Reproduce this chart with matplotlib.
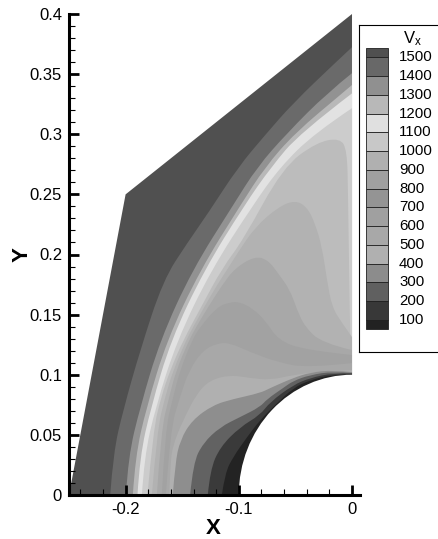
import numpy as np
import matplotlib
matplotlib.use('Agg')
import matplotlib.pyplot as plt
from matplotlib.patches import Circle, PathPatch
from matplotlib.path import Path

plt.rcParams['font.family'] = ['Liberation Sans', 'DejaVu Sans']
plt.rcParams['mathtext.fontset'] = 'custom'
plt.rcParams['mathtext.rm'] = 'Liberation Sans'

W, H = 438, 539

# flow domain and body
domain_x = [-0.25, -0.2, 0.0, 0.0]
domain_y = [0.0, 0.25, 0.4, 0.0]
body_radius = 0.1
outer_color = '#505050'

# contour boundaries, outermost first
c1_x = [-.2136, -.2109, -.2021, -.1871, -.1668, -.1456, -.1271, -.1006, -.0768, -.0521, -.0124, 0]
c1_y = [0, .0349, .0707, .1205, .1787, .2095, .2344, .2727, .2993, .3259, .3616, .3724]
c2_x = [-.1997, -.1977, -.1871, -.1695, -.1412, -.105, -.0838, -.0574, -.0221, 0]
c2_y = [0, .0316, .0732, .1288, .187, .2411, .2727, .3009, .3342, .3508]
c3_x = [-.1936, -.1915, -.1815, -.1635, -.1342, -.0985, -.0768, -.0505, -.0085, 0]
c3_y = [0, .0316, .0732, .1288, .187, .2411, .2727, .301, .3342, .341]
c4_x = [-.1895, -.1875, -.1775, -.16, -.1306, -.095, -.0715, -.046, 0]
c4_y = [0, .0316, .0732, .1288, .187, .2411, .2727, .301, .334]
c5_x = [-.1856, -.1835, -.1735, -.1545, -.1245, -.0875, -.0635, -.0329, 0]
c5_y = [0, .0316, .0732, .1288, .187, .2411, .2727, .301, .3217]
c6_x = [-.1807, -.1756, -.1686, -.1606, -.149, -.1333, -.1147, -.0962, -.0609, -.031, -.0106, -.0044, -.0035, -.002, -.001]
c6_y = [0, .054, .0815, .1039, .1288, .1563, .1887, .212, .2727, .2934, .2968, .2868, .251, .15, .105]
c7_x = [-.1768, -.1721, -.1651, -.1579, -.1465, -.1403, -.1306, -.1192, -.1094, -.1006, -.0856, -.0653, -.0503, -.0397, -.0327, -.0265, -.0221, -.0177, -.0088, 0]
c7_y = [0, .054, .0815, .1039, .1288, .1397, .1563, .1746, .1887, .202, .2228, .2394, .2452, .2394, .2261, .2062, .1787, .1563, .143, .1313]
c8_x = [-.1724, -.1686, -.1615, -.1553, -.1439, -.1377, -.1271, -.1147, -.1033, -.0856, -.0741, -.0653, -.0547, -.0485, -.0415, -.0265, 0]
c8_y = [0, .054, .0815, .1039, .1288, .1397, .1563, .1746, .1887, .1987, .1953, .1845, .1704, .1538, .1397, .1264, .1205]
c9_x = [-.168, -.165, -.158, -.1518, -.1412, -.1342, -.1192, -.1077, -.0989, -.0883, -.0768, -.0653, -.0415, 0]
c9_y = [0, .054, .0815, .1039, .1288, .1397, .1563, .1604, .1604, .1554, .1455, .1288, .1205, .1164]
c10_x = [-.1644, -.1606, -.152, -.1439, -.1315, -.1183, -.1077, -.09, -.0662, -.0397, 0]
c10_y = [0, .054, .0815, .1039, .1205, .1264, .1264, .1189, .1106, .1056, .1097]
c11_x = [-.1615, -.1606, -.1589, -.1492, -.1368, -.1253, -.1077, -.09, -.0724, -.0521, -.0309, 0]
c11_y = [0, .0208, .0399, .0623, .0848, .0956, .0998, .0973, .0956, .0998, .1022, .1039]
c12_x = [-.1583, -.1562, -.1518, -.1412, -.1227, -.105, -.0812, -.0724, -.0521, -.0371, -.0168, 0]
c12_y = [0, .0266, .0457, .0623, .0748, .0798, .0848, .0889, .0973, .1018, .1039, .1022]
c13_x = [-.143, -.1403, -.1315, -.1165, -.0989, -.0812, -.075, -.0609, -.0521, -.0371, -.0168, 0]
c13_y = [0, .0266, .0432, .0565, .0648, .0732, .0798, .0889, .0948, .0998, .1027, .1014]
c14_x = [-.1274, -.1253, -.1165, -.0989, -.0812, -.0724, -.0521, -.0371, -.0168, 0]
c14_y = [0, .0208, .0399, .0565, .0665, .0773, .0914, .0973, .1014, .101]
c15_x = [-.115, -.1121, -.105, -.0927, -.0812, -.068, -.0521, -.0371, -.0168, 0]
c15_y = [0, .0183, .0316, .0482, .0623, .0748, .0889, .0956, .1002, .1003]

curves = [(c1_x, c1_y), (c2_x, c2_y), (c3_x, c3_y), (c4_x, c4_y), (c5_x, c5_y),
          (c6_x, c6_y), (c7_x, c7_y), (c8_x, c8_y), (c9_x, c9_y), (c10_x, c10_y),
          (c11_x, c11_y), (c12_x, c12_y), (c13_x, c13_y), (c14_x, c14_y), (c15_x, c15_y)]
# grey inside each curve
curve_colors = ['#6a6a6a', '#929292', '#b8b8b8', '#e2e2e2', '#cccccc',
                '#bcbcbc', '#b2b2b2', '#a8a8a8', '#a2a2a2', '#a8a8a8',
                '#b0b0b0', '#8e8e8e', '#626262', '#3a3a3a', '#232323']

# legend
legend_levels = [1500, 1400, 1300, 1200, 1100, 1000, 900, 800, 700, 600, 500, 400, 300, 200, 100]
legend_edges = [1550, 1500, 1400, 1300, 1200, 1100, 1000, 900, 800, 700, 600, 500, 400, 300, 200, 100, 50]
legend_colors = ['#505050', '#686868', '#909090', '#b8b8b8', '#e0e0e0', '#c8c8c8', '#b0b0b0', '#a0a0a0',
                 '#949494', '#a0a0a0', '#a8a8a8', '#b0b0b0', '#8c8c8c', '#606060', '#383838', '#222222']


# closed path with the read points as quadratic control points, so the bands come out rounded
def band_path(cx, cy):
    pts = np.column_stack([cx, cy])
    verts = [pts[0]]
    codes = [Path.MOVETO]
    for i in range(1, len(pts) - 1):
        end = pts[i + 1] if i == len(pts) - 2 else (pts[i] + pts[i + 1]) / 2
        verts += [pts[i], end]
        codes += [Path.CURVE3, Path.CURVE3]
    verts += [(cx[-1], 0), pts[0]]
    codes += [Path.LINETO, Path.CLOSEPOLY]
    return Path(verts, codes)


fig = plt.figure(figsize=(W / 100, H / 100), dpi=100)

# main axes, placed by pixel
ax = fig.add_axes([69 / W, 1 - 495 / H, (360 - 69) / W, (495 - 14) / H])
ax.set_xlim(-0.25, 8 / 1133)
ax.set_ylim(0, 0.4)

dom = ax.fill(domain_x, domain_y, color=outer_color, lw=0)[0]
for (cx, cy), col in zip(curves, curve_colors):
    p = PathPatch(band_path(cx, cy), facecolor=col, lw=0)
    ax.add_patch(p)
    p.set_clip_path(dom)
ax.add_patch(Circle((0, 0), body_radius, color='white', lw=0, zorder=1.5))

for s in ['top', 'right']:
    ax.spines[s].set_visible(False)
for s in ['left', 'bottom']:
    ax.spines[s].set_linewidth(2.2)

ax.set_xticks([-0.2, -0.1, 0])
ax.set_xticklabels(['-0.2', '-0.1', '0'])
ax.set_xticks(np.arange(-0.24, 0, 0.02), minor=True)
ax.set_yticks(np.arange(0, 0.41, 0.05))
ax.set_yticklabels(['0', '0.05', '0.1', '0.15', '0.2', '0.25', '0.3', '0.35', '0.4'])
ax.set_yticks(np.arange(0, 0.401, 0.01), minor=True)
ax.tick_params(which='major', direction='in', length=7.5, width=2.0, labelsize=12, pad=5)
ax.tick_params(which='minor', direction='in', length=4.5, width=0.8)
ax.set_xlabel('X', fontsize=16, fontweight='bold')
ax.set_ylabel('Y', fontsize=16, fontweight='bold')
ax.xaxis.set_label_coords((213 - 69) / (360 - 69), -(528 - 495) / (495 - 14))
ax.yaxis.set_label_coords((22 - 69) / (360 - 69), (495 - 255) / (495 - 14))
ax.xaxis.label.set_va('center')
ax.yaxis.label.set_va('center')

# legend box, runs off the right side of the picture
lg = fig.add_axes([359 / W, 1 - 352 / H, 86 / W, (352 - 25) / H])
lg.set_xlim(0, 86)
lg.set_ylim(100 - (352 - 320) / 0.1876, 1500 + (57.3 - 25) / 0.1876)
lg.bar([18] * len(legend_colors), np.diff(legend_edges), bottom=legend_edges[:-1], width=22,
       color=legend_colors, edgecolor='#202020', linewidth=0.6)
for lev in legend_levels:
    lg.text(40, lev, str(lev), fontsize=10.8, va='center', ha='left')
lg.text(53, 1500 + (57.3 - 39) / 0.1876, r'$\mathrm{V_x}$', fontsize=12, va='center', ha='center')
lg.set_xticks([])
lg.set_yticks([])
for s in lg.spines.values():
    s.set_linewidth(0.8)

fig.savefig('out.png', dpi=100)
